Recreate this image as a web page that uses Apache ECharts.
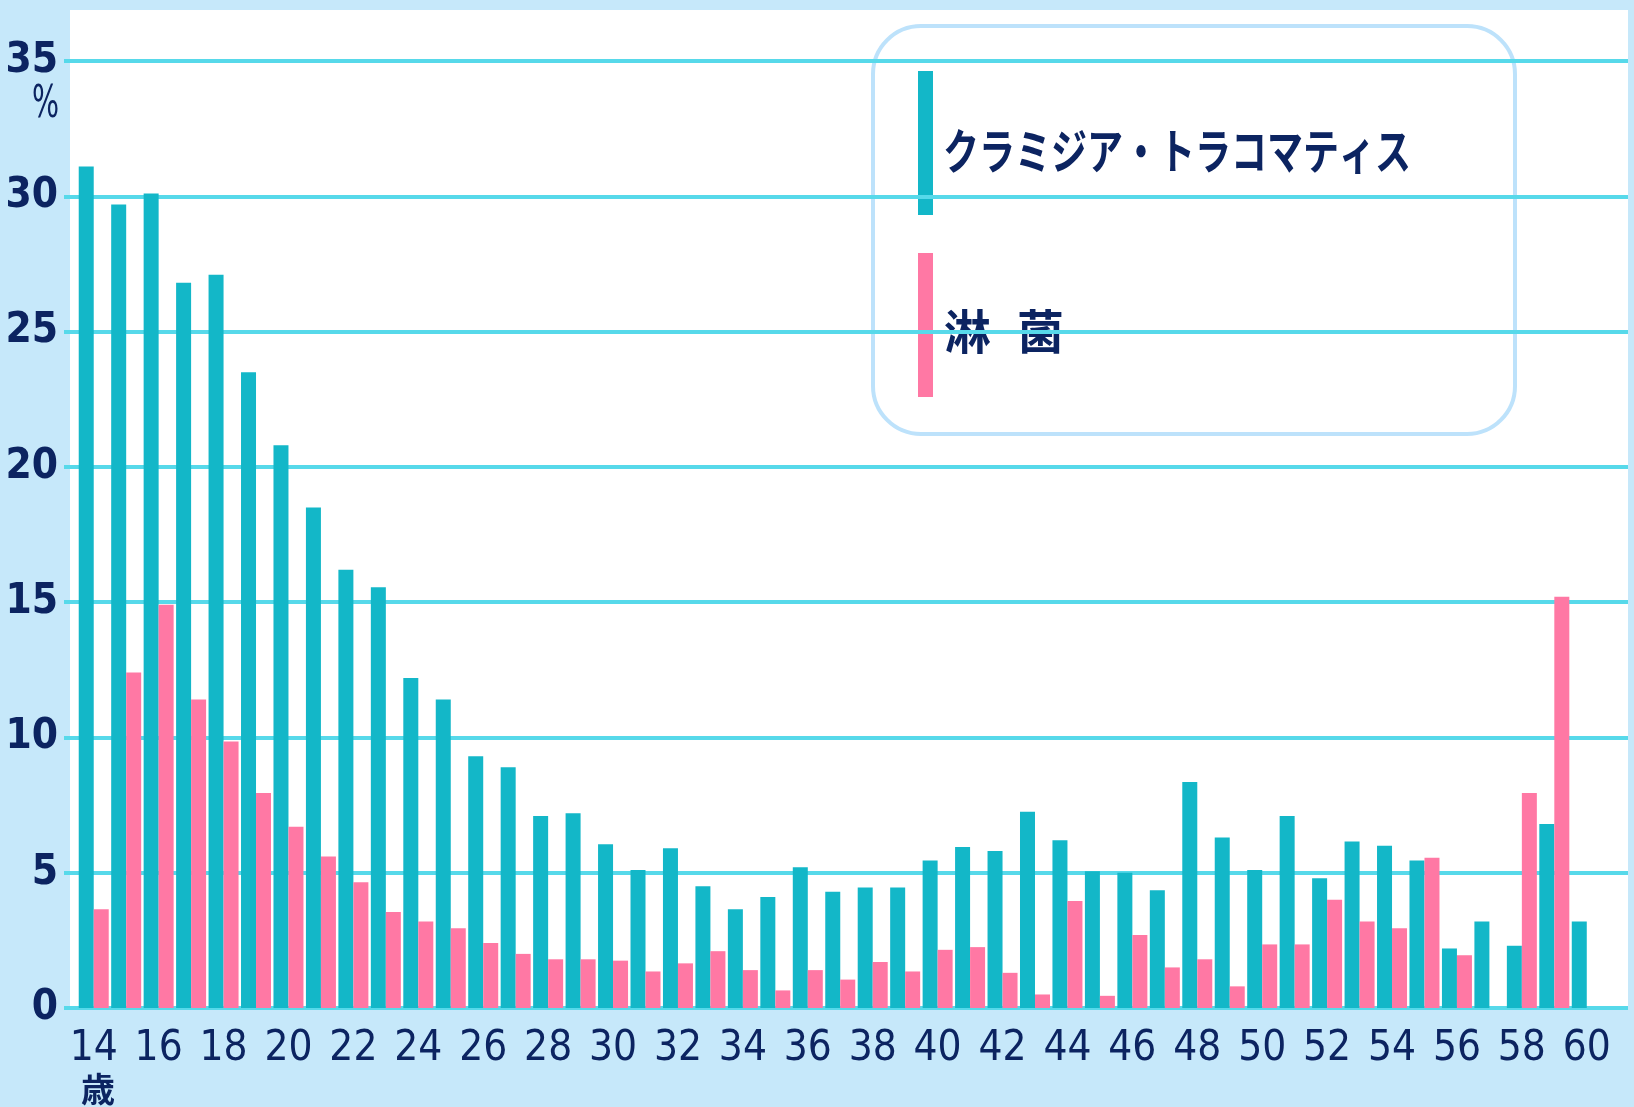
<!DOCTYPE html>
<html>
<head>
<meta charset="utf-8">
<style>
  html, body { margin: 0; padding: 0; background: #c6e8fa; }
  #chart { width: 1634px; height: 1107px; }
</style>
<script src="https://cdn.jsdelivr.net/npm/echarts@6/dist/echarts.min.js"></script>
</head>
<body>
<div id="chart"></div>
<script>
// 年齢（歳）
const ages = ['14', '15', '16', '17', '18', '19', '20', '21', '22', '23', '24', '25', '26', '27', '28',
  '29', '30', '31', '32', '33', '34', '35', '36', '37', '38', '39', '40', '41', '42', '43', '44',
  '45', '46', '47', '48', '49', '50', '51', '52', '53', '54', '55', '56', '57', '58', '59', '60']

// クラミジア・トラコマティス (%)
const chlamydia = [31.1, 29.7, 30.1, 26.8, 27.1, 23.5, 20.8, 18.5, 16.2, 15.55, 12.2, 11.4, 9.3, 8.9, 7.1,
  7.2, 6.05, 5.1, 5.9, 4.5, 3.65, 4.1, 5.2, 4.3, 4.45, 4.45, 5.45, 5.95, 5.8, 7.25, 6.2,
  5.05, 5.0, 4.35, 8.35, 6.3, 5.1, 7.1, 4.8, 6.15, 6.0, 5.45, 2.2, 3.2, 2.3, 6.8, 3.2]

// 淋菌 (%)
const gonorrhea = [3.65, 12.4, 14.9, 11.4, 9.85, 7.95, 6.7, 5.6, 4.65, 3.55, 3.2, 2.95, 2.4, 2.0, 1.8,
  1.8, 1.75, 1.35, 1.65, 2.1, 1.4, 0.65, 1.4, 1.05, 1.7, 1.35, 2.15, 2.25, 1.3, 0.5, 3.95,
  0.45, 2.7, 1.5, 1.8, 0.8, 2.35, 2.35, 4.0, 3.2, 2.95, 5.55, 1.95, 0, 7.95, 15.2, 0]

const seriesNames = ['クラミジア・トラコマティス', '淋菌']
const yMin = 0
const yMax = 35
const yStep = 5

const NAVY = '#0c2461'
const TEAL = '#13b7c8'
const PINK = '#ff78a4'
const GRID_LINE = '#57d9ea'
const NARROW = "'Liberation Sans Narrow', 'Arial Narrow', 'DejaVu Sans Condensed', sans-serif"
const JP = "'Noto Sans CJK JP', sans-serif"

const chart = echarts.init(document.getElementById('chart'))

const option = {
  animation: false,
  backgroundColor: '#c6e8fa',
  grid: [
    // gridlines + y labels (lines run across the whole white panel)
    { left: 64, right: 6, top: 61, bottom: 99 },
    // bars
    { left: 77.5, right: 31, top: 61, bottom: 99 },
  ],
  xAxis: [
    { gridIndex: 0, type: 'value', min: 0, max: 1, show: false },
    {
      gridIndex: 1,
      type: 'category',
      data: ages,
      axisLine: { show: false },
      axisTick: { show: false },
      axisLabel: {
        interval: 1,
        margin: 20,
        color: NAVY,
        fontFamily: NARROW,
        fontSize: 42,
        lineHeight: 42,
      },
    },
  ],
  yAxis: [
    {
      gridIndex: 0,
      type: 'value',
      min: yMin,
      max: yMax,
      interval: yStep,
      axisLine: { show: false },
      axisTick: { show: false },
      splitLine: { show: true, lineStyle: { color: GRID_LINE, width: 4 } },
      axisLabel: {
        margin: 6,
        color: NAVY,
        fontFamily: NARROW,
        fontWeight: 'bold',
        fontSize: 42,
      },
    },
    { gridIndex: 1, type: 'value', min: yMin, max: yMax, show: false },
  ],
  series: [
    {
      name: seriesNames[0],
      type: 'bar',
      xAxisIndex: 1,
      yAxisIndex: 1,
      data: chlamydia,
      barWidth: 15,
      barGap: '0%',
      itemStyle: { color: TEAL },
    },
    {
      name: seriesNames[1],
      type: 'bar',
      xAxisIndex: 1,
      yAxisIndex: 1,
      data: gonorrhea,
      barWidth: 15,
      barGap: '0%',
      itemStyle: { color: PINK },
    },
  ],
  graphic: [
    // white plot panel
    {
      type: 'rect',
      z: -10,
      shape: { x: 70, y: 10, width: 1558, height: 998 },
      style: { fill: '#ffffff' },
    },
    // unit
    {
      type: 'text',
      x: 59,
      y: 106,
      scaleX: 0.72,
      style: {
        text: '%',
        align: 'right',
        verticalAlign: 'middle',
        fill: NAVY,
        font: '44px ' + NARROW,
      },
    },
    {
      type: 'text',
      x: 98,
      y: 1089,
      style: {
        text: '歳',
        align: 'center',
        verticalAlign: 'middle',
        fill: NAVY,
        font: 'bold 34px ' + JP,
      },
    },
    // legend box
    {
      type: 'group',
      z: 100,
      children: [
        {
          type: 'rect',
          shape: { x: 873, y: 26, width: 642, height: 408, r: 48 },
          style: { fill: '#ffffff', stroke: '#bde2fb', lineWidth: 4 },
        },
        {
          type: 'rect',
          shape: { x: 918, y: 71, width: 15, height: 144 },
          style: { fill: TEAL },
        },
        {
          type: 'rect',
          shape: { x: 918, y: 253, width: 15, height: 144 },
          style: { fill: PINK },
        },
        {
          type: 'text',
          x: 943,
          y: 151,
          scaleX: 0.75,
          style: {
            text: seriesNames[0],
            align: 'left',
            verticalAlign: 'middle',
            fill: NAVY,
            font: 'bold 48px ' + JP,
          },
        },
        {
          type: 'text',
          x: 944,
          y: 331,
          style: {
            text: '{k|淋}{s|　}{k|菌}',
            align: 'left',
            verticalAlign: 'middle',
            rich: {
              k: { fontSize: 47, fontWeight: 'bold', fontFamily: JP, fill: NAVY },
              s: { fontSize: 26, fontFamily: JP },
            },
          },
        },
      ],
    },
  ],
}

chart.setOption(option)
window.addEventListener('resize', () => chart.resize())
</script>
</body>
</html>
